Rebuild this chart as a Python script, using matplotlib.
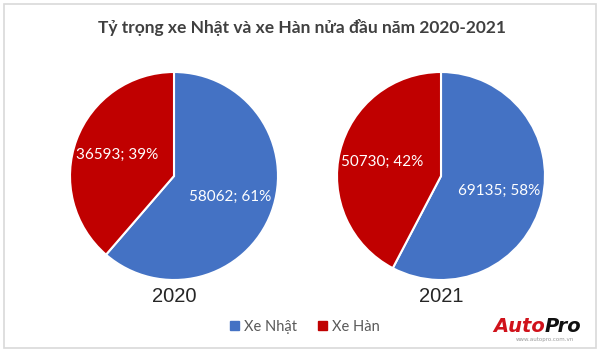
import matplotlib
matplotlib.use("Agg")
import matplotlib.pyplot as plt
from matplotlib.patches import Rectangle

# data
years = ["2020", "2021"]
series = ["Xe Nhật", "Xe Hàn"]
nhat = [58062, 69135]
han = [36593, 50730]
colors = ["#4472C4", "#C00000"]

title = "Tỷ trọng xe Nhật và xe Hàn nửa đầu năm 2020-2021"
FONT = ["Lato", "Open Sans", "DejaVu Sans"]

W, H = 600, 351
fig = plt.figure(figsize=(W / 100, H / 100), dpi=100, facecolor="white")

# light grey frame around the picture
fig.patches.append(Rectangle((4 / W, 3 / H), 1 - 8 / W, 1 - 7 / H, transform=fig.transFigure,
                             fill=False, edgecolor="#d9d9d9", linewidth=1.2))

fig.text(0.503, 1 - 28 / H, title, ha="center", va="center", fontsize=12.5,
         fontweight="bold", color="#404040", family=FONT)

r = 104
centers = [(174, 176), (441, 176)]
for i, year in enumerate(years):
    cx, cy = centers[i]
    ax = fig.add_axes([(cx - r) / W, (H - cy - r) / H, 2 * r / W, 2 * r / H])
    vals = [nhat[i], han[i]]
    total = sum(vals)
    labels = [f"{v}; {round(100 * v / total)}%" for v in vals]
    wedges, texts = ax.pie(vals, colors=colors, startangle=90, counterclock=False,
                           labels=labels, labeldistance=0.58,
                           wedgeprops=dict(edgecolor="white", linewidth=1.5))
    for t in texts:
        t.set_ha("center")
        t.set_va("center")
        t.set_color("white")
        t.set_fontsize(11)
        t.set_family(FONT)
    ax.set_xlim(-1, 1)
    ax.set_ylim(-1, 1)
    ax.set_aspect("equal")
    ax.axis("off")
    fig.text(cx / W, 1 - 297 / H, year, ha="center", va="center", fontsize=14.5,
             color="#262626", family="Liberation Sans")

# legend
handles = [Rectangle((0, 0), 1, 1, color=c) for c in colors]
fig.legend(handles, series, loc="center", bbox_to_anchor=(305 / W, 1 - 327 / H), ncol=2,
           frameon=False, handlelength=0.6, handleheight=0.6, handletextpad=0.4,
           columnspacing=1.4, prop={"family": FONT, "size": 10.5}, labelcolor="#595959")

# watermark logo
fig.text(545 / W, 1 - 326 / H, "Auto", ha="right", va="center", fontsize=14,
         fontweight="bold", style="italic", color="#d0121b", family="DejaVu Sans")
fig.text(545 / W, 1 - 326 / H, "Pro", ha="left", va="center", fontsize=14,
         fontweight="bold", style="italic", color="#111111", family="DejaVu Sans")
fig.text(545 / W, 1 - 340 / H, "www.autopro.com.vn", ha="center", va="center", fontsize=4,
         color="#999999", family="DejaVu Sans")

fig.savefig("out.png", dpi=100, facecolor="white")
